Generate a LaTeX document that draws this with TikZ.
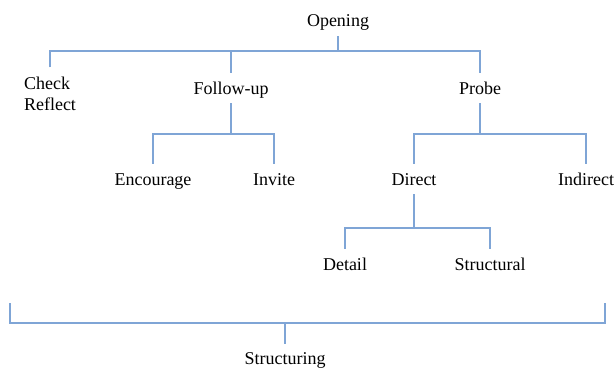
\documentclass[tikz,border=0pt]{standalone}
\usepackage{fontspec}
\setmainfont{Liberation Serif}
\definecolor{treeblue}{HTML}{7FA5D6}
\begin{document}
\begin{tikzpicture}[x=1pt, y=-1pt]
        \tikzset{
            word/.style   = {inner xsep=0pt, inner ysep=9pt, text height=12pt, text depth=0pt, font=\fontsize{18}{21}\selectfont},
            branch/.style = {draw=treeblue, line width=1.2pt}
        }
        \useasboundingbox (0,0) rectangle (615,369);
        \node[word] (OPEN) at (338,21) {Opening};
        \node[inner xsep=0pt, inner ysep=9pt, align=left, font=\fontsize{18}{21}\selectfont] (CHK) at (50,93.4) {Check\\Reflect};
        \node[word] (FOL) at (231,88) {Follow-up};
        \node[word] (PRB) at (480,88) {Probe};
        \node[word] (ENC) at (153,179) {Encourage};
        \node[word] (INV) at (274,179) {Invite};
        \node[word] (DIR) at (414,179) {Direct};
        \node[word] (IND) at (586,179) {Indirect};
        \node[word] (DET) at (345,264) {Detail};
        \node[word] (STR) at (490,264) {Structural};
        \node[word, inner ysep=8pt] (STC) at (285,358) {Structuring};

        \coordinate (TOP) at (0,51);
        \coordinate (MID) at (0,134);
        \coordinate (LOW) at (0,228);
        \coordinate (BASE) at (0,323);
        \coordinate (BL) at (10,303);
        \coordinate (BR) at (605,303);

        \draw[branch] (OPEN.south) -- (OPEN.south |- TOP);
        \draw[branch] (CHK.north) |- (PRB.north |- TOP) -- (PRB.north);
        \draw[branch] (FOL.north) -- (FOL.north |- TOP);
        \draw[branch] (FOL.south) -- (FOL.south |- MID);
        \draw[branch] (ENC.north) |- (INV.north |- MID) -- (INV.north);
        \draw[branch] (PRB.south) -- (PRB.south |- MID);
        \draw[branch] (DIR.north) |- (IND.north |- MID) -- (IND.north);
        \draw[branch] (DIR.south) -- (DIR.south |- LOW);
        \draw[branch] (DET.north) |- (STR.north |- LOW) -- (STR.north);
        \draw[branch] (BL) |- (BR |- BASE) -- (BR);
        \draw[branch] (STC.north) -- (STC.north |- BASE);
    \end{tikzpicture}
\end{document}
